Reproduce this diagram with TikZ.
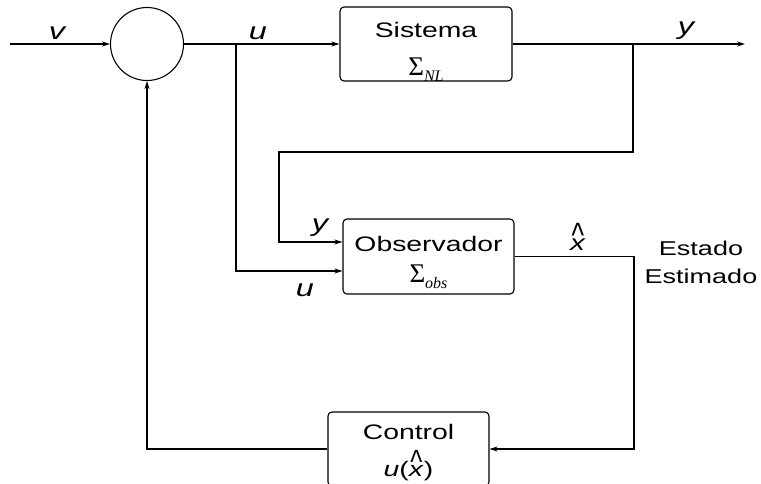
\documentclass[tikz,border=0pt]{standalone}
\usepackage{fontspec}
\usepackage{graphicx}
\setmainfont[FakeStretch=1.35]{Liberation Sans}
\newfontfamily\serf{Liberation Serif}
\usetikzlibrary{arrows.meta}
\newcommand{\hx}{\ooalign{\textit{x}\cr\hidewidth\raisebox{0.12em}{\scalebox{0.9}[1.6]{\^{}}}\hidewidth\cr}}
\newcommand{\sgm}[1]{{\serf\fontsize{27}{27}\selectfont Σ}\raisebox{-0.3em}{\serf\itshape\fontsize{16}{16}\selectfont #1}}
\begin{document}
\begin{tikzpicture}[x=1pt,y=-1pt, line width=1.1pt,
  >={Stealth[length=8pt,width=5pt]},
  blk/.style={draw, rounded corners=4pt, align=center, inner sep=0pt,
    font=\fontsize{21}{33}\selectfont},
  lbl/.style={font=\fontsize{24}{28}\selectfont\itshape, inner sep=0pt},
  txt/.style={font=\fontsize{20}{28}\selectfont, align=center, inner sep=0pt}]
\useasboundingbox (0,0) rectangle (761,483);
\node[draw, circle, minimum size=73pt, inner sep=0pt] (sum) at (147,44) {};
\node[blk, minimum width=172pt, text height=68pt, text depth=6pt] (sys) at (426,44) {Sistema\\[5pt]\sgm{NL}};
\node[blk, minimum width=171pt, text height=63pt, text depth=12pt] (obs) at (428.5,256.5) {Observador\\[-2pt]\sgm{obs}};
\node[blk, minimum width=161pt, text height=64pt, text depth=10pt] (ctrl) at (408.5,449) {Control\\[4pt]\textit{u}(\hx)};
% labels
\node[lbl] (lv) at (57,33) {v};
\node[lbl] (lu) at (258,33) {u};
\node[lbl] (ly) at (686,31) {y};
\node[lbl] (ly2) at (320,228) {y};
\node[lbl] (lu2) at (305,290) {u};
\node[txt, font=\fontsize{22}{26}\selectfont, anchor=base] (lx) at (578,250) {\hx};
\node[txt] (est) at (701,262) {Estado\\Estimado};
% coordinates
\coordinate (vin) at (10,44);
\coordinate (ub) at (236,44);
\coordinate (yb) at (633,44);
\coordinate (yout) at (745,44);
\coordinate (c1) at (633,152);
\coordinate (c2) at (279,152);
\coordinate (xr) at (634,449);
% connectors
\draw[->] (vin) -- (sum.west);
\draw[->] (sum.east) -- (sys.west);
\draw[->] (sys.east) -- (yout);
\draw[->] (ub) |- ([yshift=-14.5pt]obs.west);
\draw[->] (yb) -- (c1) -- (c2) |- ([yshift=14.5pt]obs.west);
\draw[->] (obs.east) -| (xr) -- (ctrl.east);
\draw[->] (ctrl.west) -| (sum.south);
\end{tikzpicture}
\end{document}
